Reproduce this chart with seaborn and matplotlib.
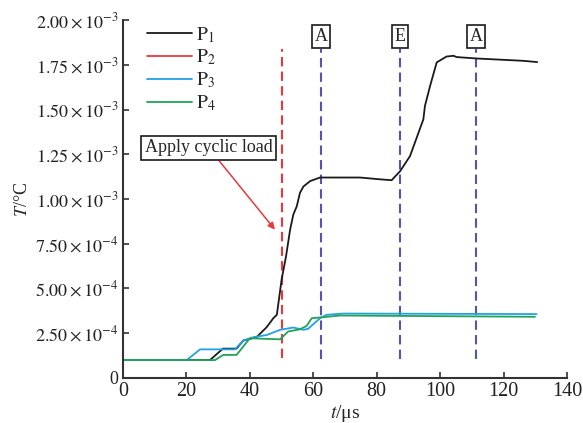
import numpy as np
import pandas as pd
import matplotlib
matplotlib.use("Agg")
import matplotlib.pyplot as plt
from matplotlib.lines import Line2D
import seaborn as sns

# Temperature histories (units of 1e-3 °C) at the four probe points
t_p1 = [0, 27.4, 31.5, 35.8, 37.9, 42.1, 45.3, 47.4, 48.5, 50.0, 51.4, 52.7, 53.7,
        54.8, 55.8, 56.9, 59.0, 62.1, 74.7, 81.0, 84.7, 87.4, 90.5, 94.7, 95.2,
        96.8, 98.9, 102.0, 104.2, 105.2, 111.5, 126.2, 130.6]
T_p1 = [0.100, 0.100, 0.164, 0.164, 0.209, 0.228, 0.284, 0.334, 0.353, 0.549, 0.68,
        0.83, 0.913, 0.96, 1.035, 1.07, 1.10, 1.12, 1.12, 1.11, 1.105, 1.156, 1.24,
        1.445, 1.52, 1.63, 1.763, 1.796, 1.80, 1.793, 1.785, 1.772, 1.765]
t_p3 = [0, 20.1, 24.3, 35.3, 37.9, 41.1, 45.3, 49.5, 53.7, 56.9, 58.4, 62.1, 64.2,
        69.5, 130.4]
T_p3 = [0.100, 0.100, 0.160, 0.160, 0.209, 0.228, 0.240, 0.269, 0.282, 0.269, 0.275,
        0.334, 0.353, 0.360, 0.357]
t_p4 = [0, 29.0, 31.6, 35.8, 40.0, 49.5, 52.1, 55.8, 57.9, 59.5, 62.1, 68.4, 129.9]
T_p4 = [0.100, 0.100, 0.129, 0.129, 0.222, 0.216, 0.260, 0.272, 0.291, 0.334, 0.338,
        0.349, 0.342]

series_names = ["P1", "P3", "P4"]
legend_names = ["P1", "P2", "P3", "P4"]
legend_labels = [r"$\mathrm{P}_1$", r"$\mathrm{P}_2$", r"$\mathrm{P}_3$", r"$\mathrm{P}_4$"]
colors = {"P1": "#1a1a1a", "P2": "#e8383d", "P3": "#22a2e6", "P4": "#1fa456"}

load_time = 50.0
stage_times = [62.4, 87.4, 111.3]
stage_labels = ["A", "E", "A"]

x_ticks = [0, 20, 40, 60, 80, 100, 120, 140]
y_ticks = [0, 0.25, 0.5, 0.75, 1.0, 1.25, 1.5, 1.75, 2.0]
y_ticklabels = ["0", r"$2.50\times10^{-4}$", r"$5.00\times10^{-4}$", r"$7.50\times10^{-4}$",
                r"$1.00\times10^{-3}$", r"$1.25\times10^{-3}$", r"$1.50\times10^{-3}$",
                r"$1.75\times10^{-3}$", r"$2.00\times10^{-3}$"]

frames = []
for name, tt, TT in [("P1", t_p1, T_p1), ("P3", t_p3, T_p3), ("P4", t_p4, T_p4)]:
    frames.append(pd.DataFrame({"t": tt, "T": np.array(TT) * 1e-3, "point": name}))
df = pd.concat(frames, ignore_index=True)

sns.set_style("ticks")
plt.rcParams["font.family"] = ["Liberation Serif", "DejaVu Serif"]
plt.rcParams["mathtext.fontset"] = "stix"
plt.rcParams["font.size"] = 12

fig = plt.figure(figsize=(5.83, 4.23), dpi=100)
ax = fig.add_axes([0.211, 0.1064, 0.7616, 0.8463])

sns.lineplot(data=df, x="t", y="T", hue="point", hue_order=series_names,
             palette=colors, sort=False, estimator=None, linewidth=1.3,
             legend=False, ax=ax)

# Load application and stage markers
ax.vlines(load_time, 0.112e-3, 1.84e-3, colors="#e8383d", linestyles=(0, (4.5, 2.5)),
          linewidth=1.5, zorder=1)
for st, lab in zip(stage_times, stage_labels):
    ax.vlines(st, 0.105e-3, 1.84e-3, colors="#5555b0", linestyles=(0, (4.5, 2.5)),
              linewidth=1.5, zorder=1)
    ax.text(st, 1.907e-3, lab, ha="center", va="center", fontsize=13,
            bbox=dict(boxstyle="square,pad=0.15", fc="white", ec="#1a1a1a", lw=1.2))

ax.annotate("Apply cyclic load", xy=(47.9, 0.829e-3), xytext=(27.0, 1.286e-3),
            ha="center", va="center", fontsize=13,
            bbox=dict(boxstyle="square,pad=0.2", fc="white", ec="#1a1a1a", lw=1.2),
            arrowprops=dict(arrowstyle="-|>", color="#e8383d", lw=1.1,
                            mutation_scale=10, shrinkA=0, shrinkB=0),
            zorder=5)

handles = [Line2D([], [], color=colors[n], lw=1.3) for n in legend_names]
leg = ax.legend(handles, legend_labels, loc="upper left", bbox_to_anchor=(0.015, 1.035),
                frameon=False, handlelength=2.3, handletextpad=0.2, labelspacing=0.16,
                fontsize=14)

ax.set_xlim(0, 140)
ax.set_ylim(0, 2.0e-3)
ax.set_xticks(x_ticks)
ax.set_yticks(np.array(y_ticks) * 1e-3)
ax.set_yticklabels(y_ticklabels)
ax.tick_params(direction="in", length=4, width=1.2, color="#333333", labelcolor="#222222")
ax.tick_params(axis="y", labelsize=13)
ax.tick_params(axis="x", labelsize=14.5, pad=3)
for s in ["left", "bottom"]:
    ax.spines[s].set_linewidth(1.5)
    ax.spines[s].set_color("#333333")
sns.despine(ax=ax)

ax.set_xlabel(r"$t$/μs", fontsize=14, labelpad=1)
ax.set_ylabel(r"$T$/°C", fontsize=13, labelpad=3)

fig.savefig("out.png", dpi=100)
